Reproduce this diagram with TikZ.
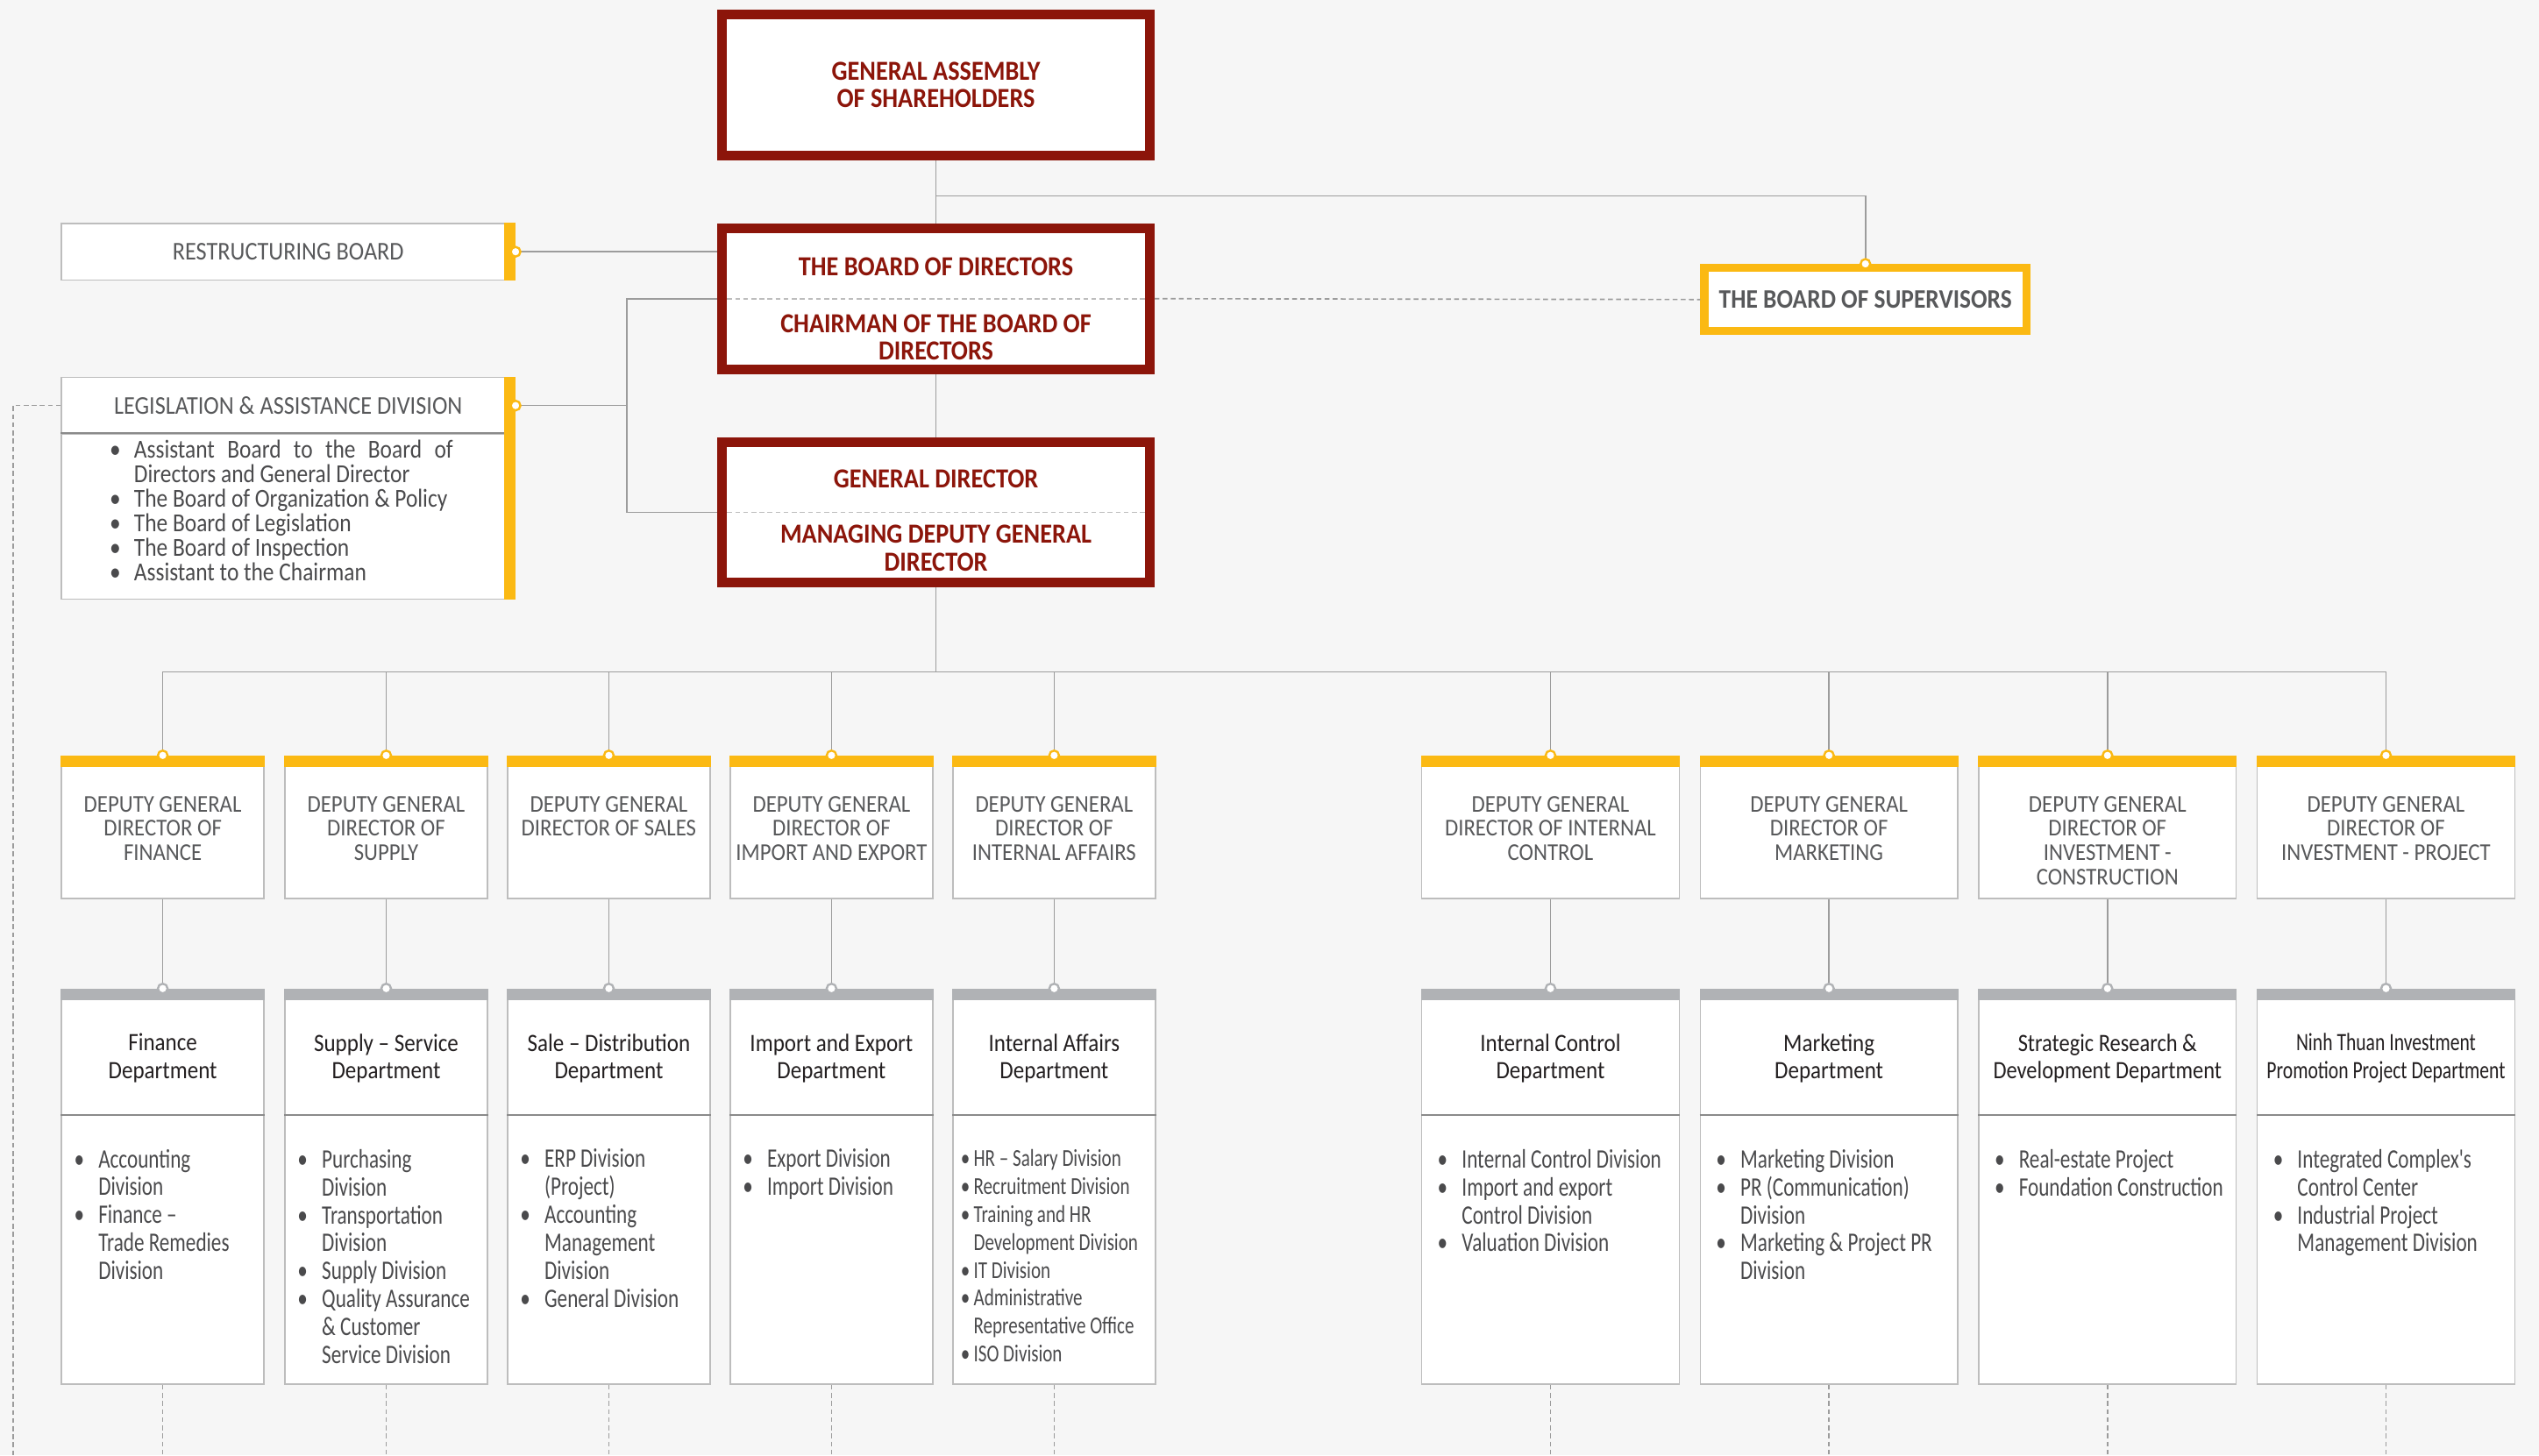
\documentclass[tikz,border=0pt]{standalone}
\usepackage{fontspec}
\setmainfont{Carlito}[FakeStretch=0.88]
\newfontfamily\capsf{Carlito}[FakeStretch=0.9]
\newfontfamily\listf{Carlito}[FakeStretch=0.76]
\newfontfamily\legf{Carlito}[FakeStretch=0.86]
\usetikzlibrary{positioning}
\definecolor{bgc}{HTML}{F6F6F6}
\definecolor{redc}{HTML}{8C150A}
\definecolor{yelc}{HTML}{FBB913}
\definecolor{barc}{HTML}{B0B2B5}
\definecolor{linec}{HTML}{9C9C9C}
\definecolor{boxc}{HTML}{BDBDBD}
\definecolor{sepc}{HTML}{8A8A8A}
\definecolor{txtc}{HTML}{58595B}
\definecolor{listc}{HTML}{4A4A4C}
\definecolor{darkc}{HTML}{231F20}
\newcommand{\bi}[1]{\makebox[15pt][l]{\textbullet}#1}
\newcommand{\bc}[1]{\hspace*{15pt}#1}
\newcommand{\sbi}[1]{\makebox[8pt][l]{\textbullet}#1}
\newcommand{\sbc}[1]{\hspace*{8pt}#1}
\begin{document}
\begin{tikzpicture}[x=1pt, y=-1pt,
  wire/.style={draw=linec, line width=0.9pt},
  dashwire/.style={draw=linec, line width=0.9pt, dash pattern=on 3pt off 2pt},
  sepdash/.style={draw=boxc, line width=0.9pt, dash pattern=on 3pt off 2pt},
  redbox/.style={draw=redc, fill=white, line width=6pt, minimum width=264pt, minimum height=87pt, inner sep=0pt},
  redtext/.style={text=redc, font=\fontsize{17}{17}\capsf\bfseries, align=center, inner sep=0pt},
  supbox/.style={draw=yelc, fill=white, line width=5pt, minimum width=199pt, minimum height=39pt, inner sep=0pt, text=txtc, font=\fontsize{16.5}{17}\capsf\bfseries},
  sidebox/.style={draw=boxc, fill=white, line width=0.8pt, minimum width=280pt, inner sep=0pt, text=txtc, font=\fontsize{15.8}{17}\capsf},
  dgdbox/.style={draw=boxc, fill=white, line width=0.8pt, minimum height=88pt, inner sep=0pt},
  dgdtext/.style={text=txtc, font=\fontsize{14.9}{15}\capsf, align=center, inner sep=0pt},
  dphbox/.style={draw=boxc, fill=white, line width=0.8pt, minimum height=78pt, inner sep=0pt},
  dphtext/.style={text=darkc, font=\fontsize{15.4}{17}\selectfont, align=center, inner sep=0pt},
  dpbbox/.style={draw=boxc, fill=white, line width=0.8pt, minimum height=166pt, inner sep=0pt},
  listtext/.style={text=listc, font=\fontsize{16.5}{17.3}\listf, align=left, inner sep=0pt, anchor=north west},
  ydot/.style={circle, draw=yelc, fill=white, line width=1.3pt, minimum size=6pt, inner sep=0pt},
  gdot/.style={circle, draw=barc, fill=white, line width=1.3pt, minimum size=6pt, inner sep=0pt}]
\fill[bgc] (0,0) rectangle (1568,899);
\useasboundingbox (0,0) rectangle (1568,899);
% top boards
\node[redbox, redtext] (gsm) at (578,52.5) {GENERAL ASSEMBLY\\OF SHAREHOLDERS};
\node[redbox] (bod) at (578,184.5) {};
\node[redtext] (bodt) at (578,165) {THE BOARD OF DIRECTORS};
\node[redtext] (bodc) at (578,208.5) {CHAIRMAN OF THE BOARD OF\\DIRECTORS};
\draw[sepdash] ([xshift=6pt]bod.west) -- ([xshift=-6pt]bod.east);
\node[redbox] (gd) at (578,316.5) {};
\node[redtext] (gdt) at (578,296) {GENERAL DIRECTOR};
\node[redtext] (gdm) at (578,338.5) {MANAGING DEPUTY GENERAL\\DIRECTOR};
\draw[sepdash] ([xshift=6pt]gd.west) -- ([xshift=-6pt]gd.east);
\node[supbox] (sup) at (1152,185) {THE BOARD OF SUPERVISORS};
% side boards
\node[sidebox, minimum height=35pt] (rb) at (178,155.5) {RESTRUCTURING BOARD};
\fill[yelc] ([xshift=-7pt]rb.north east) rectangle (rb.south east);
\node[sidebox, minimum height=35pt] (legh) at (178,250.5) {LEGISLATION \& ASSISTANCE DIVISION};
\node[sidebox, minimum height=102pt] (legb) at (178,319) {};
\draw[draw=sepc, line width=1.2pt] (legb.north west) -- (legb.north east);
\fill[yelc] ([xshift=-7pt]legh.north east) rectangle (legb.south east);
\node[listtext, font=\fontsize{16}{15.2}\legf] (legl) at ([xshift=30pt,yshift=-4pt]legb.north west)
  {\bi{\makebox[197pt][s]{Assistant Board to the Board of}}\\\bc{Directors and General Director}\\\bi{The Board of Organization \& Policy}\\\bi{The Board of Legislation}\\\bi{The Board of Inspection}\\\bi{Assistant to the Chairman}};
% deputy general directors
\node[dgdbox, minimum width=125pt] (dgd0) at (100.5,511) {};
\node[dgdbox, minimum width=125pt] (dgd1) at (238.5,511) {};
\node[dgdbox, minimum width=125pt] (dgd2) at (376,511) {};
\node[dgdbox, minimum width=125pt] (dgd3) at (513.5,511) {};
\node[dgdbox, minimum width=125pt] (dgd4) at (651,511) {};
\node[dgdbox, minimum width=159pt] (dgd5) at (957.5,511) {};
\node[dgdbox, minimum width=159pt] (dgd6) at (1129.5,511) {};
\node[dgdbox, minimum width=159pt] (dgd7) at (1301.5,511) {};
\node[dgdbox, minimum width=159pt] (dgd8) at (1473.5,511) {};
\fill[yelc] (dgd0.north west) rectangle ([yshift=-7pt]dgd0.north east);
\fill[yelc] (dgd1.north west) rectangle ([yshift=-7pt]dgd1.north east);
\fill[yelc] (dgd2.north west) rectangle ([yshift=-7pt]dgd2.north east);
\fill[yelc] (dgd3.north west) rectangle ([yshift=-7pt]dgd3.north east);
\fill[yelc] (dgd4.north west) rectangle ([yshift=-7pt]dgd4.north east);
\fill[yelc] (dgd5.north west) rectangle ([yshift=-7pt]dgd5.north east);
\fill[yelc] (dgd6.north west) rectangle ([yshift=-7pt]dgd6.north east);
\fill[yelc] (dgd7.north west) rectangle ([yshift=-7pt]dgd7.north east);
\fill[yelc] (dgd8.north west) rectangle ([yshift=-7pt]dgd8.north east);
\node[dgdtext, below=25pt of dgd0.north] (dgt0) {DEPUTY GENERAL\\DIRECTOR OF\\FINANCE};
\node[dgdtext, below=25pt of dgd1.north] (dgt1) {DEPUTY GENERAL\\DIRECTOR OF\\SUPPLY};
\node[dgdtext, below=25pt of dgd2.north] (dgt2) {DEPUTY GENERAL\\DIRECTOR OF SALES};
\node[dgdtext, below=25pt of dgd3.north] (dgt3) {DEPUTY GENERAL\\DIRECTOR OF\\IMPORT AND EXPORT};
\node[dgdtext, below=25pt of dgd4.north] (dgt4) {DEPUTY GENERAL\\DIRECTOR OF\\INTERNAL AFFAIRS};
\node[dgdtext, below=25pt of dgd5.north] (dgt5) {DEPUTY GENERAL\\DIRECTOR OF INTERNAL\\CONTROL};
\node[dgdtext, below=25pt of dgd6.north] (dgt6) {DEPUTY GENERAL\\DIRECTOR OF\\MARKETING};
\node[dgdtext, below=25pt of dgd7.north] (dgt7) {DEPUTY GENERAL\\DIRECTOR OF\\INVESTMENT -\\CONSTRUCTION};
\node[dgdtext, below=25pt of dgd8.north] (dgt8) {DEPUTY GENERAL\\DIRECTOR OF\\INVESTMENT - PROJECT};
% departments
\node[dphbox, minimum width=125pt] (dph0) at (100.5,650) {};
\node[dphbox, minimum width=125pt] (dph1) at (238.5,650) {};
\node[dphbox, minimum width=125pt] (dph2) at (376,650) {};
\node[dphbox, minimum width=125pt] (dph3) at (513.5,650) {};
\node[dphbox, minimum width=125pt] (dph4) at (651,650) {};
\node[dphbox, minimum width=159pt] (dph5) at (957.5,650) {};
\node[dphbox, minimum width=159pt] (dph6) at (1129.5,650) {};
\node[dphbox, minimum width=159pt] (dph7) at (1301.5,650) {};
\node[dphbox, minimum width=159pt] (dph8) at (1473.5,650) {};
\fill[barc] (dph0.north west) rectangle ([yshift=-7pt]dph0.north east);
\fill[barc] (dph1.north west) rectangle ([yshift=-7pt]dph1.north east);
\fill[barc] (dph2.north west) rectangle ([yshift=-7pt]dph2.north east);
\fill[barc] (dph3.north west) rectangle ([yshift=-7pt]dph3.north east);
\fill[barc] (dph4.north west) rectangle ([yshift=-7pt]dph4.north east);
\fill[barc] (dph5.north west) rectangle ([yshift=-7pt]dph5.north east);
\fill[barc] (dph6.north west) rectangle ([yshift=-7pt]dph6.north east);
\fill[barc] (dph7.north west) rectangle ([yshift=-7pt]dph7.north east);
\fill[barc] (dph8.north west) rectangle ([yshift=-7pt]dph8.north east);
\node[dphtext] (dpt0) at ([yshift=-43pt]dph0.north) {Finance\\Department};
\node[dphtext] (dpt1) at ([yshift=-43pt]dph1.north) {Supply \textendash{} Service\\Department};
\node[dphtext] (dpt2) at ([yshift=-43pt]dph2.north) {Sale \textendash{} Distribution\\Department};
\node[dphtext] (dpt3) at ([yshift=-43pt]dph3.north) {Import and Export\\Department};
\node[dphtext] (dpt4) at ([yshift=-43pt]dph4.north) {Internal Affairs\\Department};
\node[dphtext] (dpt5) at ([yshift=-43pt]dph5.north) {Internal Control\\Department};
\node[dphtext] (dpt6) at ([yshift=-43pt]dph6.north) {Marketing\\Department};
\node[dphtext, font=\fontsize{15.4}{17}\legf] (dpt7) at ([yshift=-43pt]dph7.north) {Strategic Research \&\\Development Department};
\node[dphtext, font=\fontsize{15.4}{17}\listf] (dpt8) at ([yshift=-43pt]dph8.north) {Ninh Thuan Investment\\Promotion Project Department};
\node[dpbbox, minimum width=125pt] (dpb0) at (100.5,772) {};
\node[dpbbox, minimum width=125pt] (dpb1) at (238.5,772) {};
\node[dpbbox, minimum width=125pt] (dpb2) at (376,772) {};
\node[dpbbox, minimum width=125pt] (dpb3) at (513.5,772) {};
\node[dpbbox, minimum width=125pt] (dpb4) at (651,772) {};
\node[dpbbox, minimum width=159pt] (dpb5) at (957.5,772) {};
\node[dpbbox, minimum width=159pt] (dpb6) at (1129.5,772) {};
\node[dpbbox, minimum width=159pt] (dpb7) at (1301.5,772) {};
\node[dpbbox, minimum width=159pt] (dpb8) at (1473.5,772) {};
\draw[draw=sepc, line width=1.2pt] (dpb0.north west) -- (dpb0.north east);
\draw[draw=sepc, line width=1.2pt] (dpb1.north west) -- (dpb1.north east);
\draw[draw=sepc, line width=1.2pt] (dpb2.north west) -- (dpb2.north east);
\draw[draw=sepc, line width=1.2pt] (dpb3.north west) -- (dpb3.north east);
\draw[draw=sepc, line width=1.2pt] (dpb4.north west) -- (dpb4.north east);
\draw[draw=sepc, line width=1.2pt] (dpb5.north west) -- (dpb5.north east);
\draw[draw=sepc, line width=1.2pt] (dpb6.north west) -- (dpb6.north east);
\draw[draw=sepc, line width=1.2pt] (dpb7.north west) -- (dpb7.north east);
\draw[draw=sepc, line width=1.2pt] (dpb8.north west) -- (dpb8.north east);
\node[listtext] (dpl0) at ([xshift=8pt,yshift=-21pt]dpb0.north west)
  {\bi{Accounting}\\\bc{Division}\\\bi{Finance \textendash}\\\bc{Trade Remedies}\\\bc{Division}};
\node[listtext] (dpl1) at ([xshift=8pt,yshift=-21pt]dpb1.north west)
  {\bi{Purchasing}\\\bc{Division}\\\bi{Transportation}\\\bc{Division}\\\bi{Supply Division}\\\bi{Quality Assurance}\\\bc{\& Customer}\\\bc{Service Division}};
\node[listtext] (dpl2) at ([xshift=8pt,yshift=-21pt]dpb2.north west)
  {\bi{ERP Division}\\\bc{(Project)}\\\bi{Accounting}\\\bc{Management}\\\bc{Division}\\\bi{General Division}};
\node[listtext] (dpl3) at ([xshift=8pt,yshift=-21pt]dpb3.north west)
  {\bi{Export Division}\\\bi{Import Division}};
\node[listtext, font=\fontsize{15}{17.3}\listf] (dpl4) at ([xshift=5pt,yshift=-21pt]dpb4.north west)
  {\sbi{HR \textendash{} Salary Division}\\\sbi{Recruitment Division}\\\sbi{Training and HR}\\\sbc{Development Division}\\\sbi{IT Division}\\\sbi{Administrative}\\\sbc{Representative Office}\\\sbi{ISO Division}};
\node[listtext] (dpl5) at ([xshift=10pt,yshift=-21pt]dpb5.north west)
  {\bi{Internal Control Division}\\\bi{Import and export}\\\bc{Control Division}\\\bi{Valuation Division}};
\node[listtext] (dpl6) at ([xshift=10pt,yshift=-21pt]dpb6.north west)
  {\bi{Marketing Division}\\\bi{PR (Communication)}\\\bc{Division}\\\bi{Marketing \& Project PR}\\\bc{Division}};
\node[listtext] (dpl7) at ([xshift=10pt,yshift=-21pt]dpb7.north west)
  {\bi{Real-estate Project}\\\bi{Foundation Construction}};
\node[listtext] (dpl8) at ([xshift=10pt,yshift=-21pt]dpb8.north west)
  {\bi{Integrated Complex's}\\\bc{Control Center}\\\bi{Industrial Project}\\\bc{Management Division}};
% connectors
\coordinate (sj) at (578,121);
\coordinate (lj) at (387,250.5);
\coordinate (lft) at (8,899);
\coordinate (bus) at (578,415);
\coordinate (bot) at (0,899);
\draw[wire] (gsm.south) -- (bod.north);
\draw[wire] (sj) -| (sup.north);
\draw[dashwire] (bod.east) -- (sup.west);
\draw[wire] (rb.east) -- (rb.east -| bod.west);
\draw[wire] (legh.east) -- (lj);
\draw[wire] (bod.west) -| (lj) |- (gd.west);
\draw[dashwire] (legh.west) -| (lft);
\draw[wire] (bod.south) -- (gd.north);
\draw[wire] (gd.south) -- (bus);
\draw[wire] (dgd0.north) |- (bus);
\draw[wire] (dgd1.north) |- (bus);
\draw[wire] (dgd2.north) |- (bus);
\draw[wire] (dgd3.north) |- (bus);
\draw[wire] (dgd4.north) |- (bus);
\draw[wire] (dgd5.north) |- (bus);
\draw[wire] (dgd6.north) |- (bus);
\draw[wire] (dgd7.north) |- (bus);
\draw[wire] (dgd8.north) |- (bus);
\draw[wire] (dgd0.south) -- (dph0.north);
\draw[wire] (dgd1.south) -- (dph1.north);
\draw[wire] (dgd2.south) -- (dph2.north);
\draw[wire] (dgd3.south) -- (dph3.north);
\draw[wire] (dgd4.south) -- (dph4.north);
\draw[wire] (dgd5.south) -- (dph5.north);
\draw[wire] (dgd6.south) -- (dph6.north);
\draw[wire] (dgd7.south) -- (dph7.north);
\draw[wire] (dgd8.south) -- (dph8.north);
\draw[dashwire] (dpb0.south) -- (dpb0.south |- bot);
\draw[dashwire] (dpb1.south) -- (dpb1.south |- bot);
\draw[dashwire] (dpb2.south) -- (dpb2.south |- bot);
\draw[dashwire] (dpb3.south) -- (dpb3.south |- bot);
\draw[dashwire] (dpb4.south) -- (dpb4.south |- bot);
\draw[dashwire] (dpb5.south) -- (dpb5.south |- bot);
\draw[dashwire] (dpb6.south) -- (dpb6.south |- bot);
\draw[dashwire] (dpb7.south) -- (dpb7.south |- bot);
\draw[dashwire] (dpb8.south) -- (dpb8.south |- bot);
% markers
\node[ydot] (msup) at (sup.north) {};
\node[ydot] (mrb) at (rb.east) {};
\node[ydot] (mleg) at (legh.east) {};
\node[ydot] (mdg0) at (dgd0.north) {};
\node[ydot] (mdg1) at (dgd1.north) {};
\node[ydot] (mdg2) at (dgd2.north) {};
\node[ydot] (mdg3) at (dgd3.north) {};
\node[ydot] (mdg4) at (dgd4.north) {};
\node[ydot] (mdg5) at (dgd5.north) {};
\node[ydot] (mdg6) at (dgd6.north) {};
\node[ydot] (mdg7) at (dgd7.north) {};
\node[ydot] (mdg8) at (dgd8.north) {};
\node[gdot] (mdp0) at (dph0.north) {};
\node[gdot] (mdp1) at (dph1.north) {};
\node[gdot] (mdp2) at (dph2.north) {};
\node[gdot] (mdp3) at (dph3.north) {};
\node[gdot] (mdp4) at (dph4.north) {};
\node[gdot] (mdp5) at (dph5.north) {};
\node[gdot] (mdp6) at (dph6.north) {};
\node[gdot] (mdp7) at (dph7.north) {};
\node[gdot] (mdp8) at (dph8.north) {};
\end{tikzpicture}
\end{document}
